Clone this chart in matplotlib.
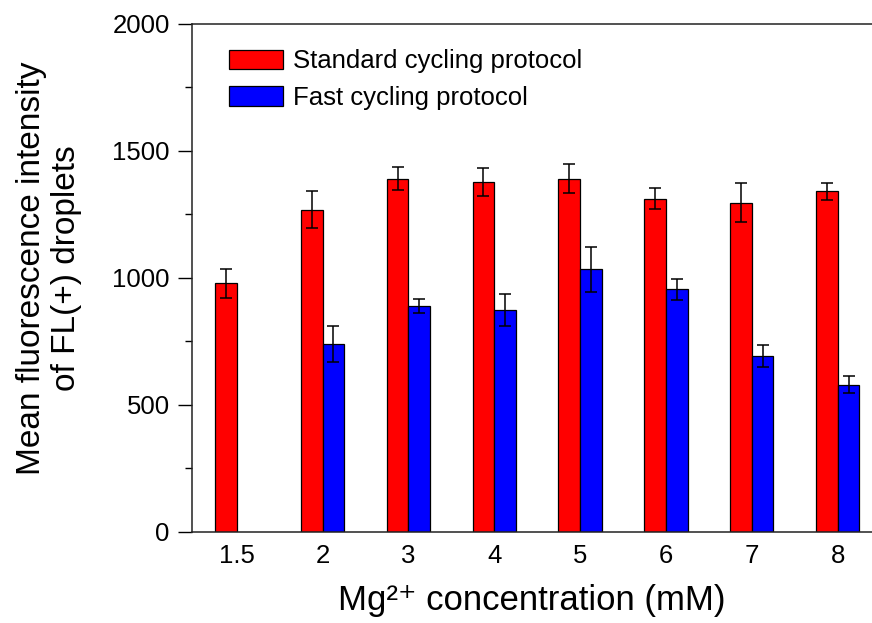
import numpy as np
import matplotlib.pyplot as plt
from matplotlib.ticker import MultipleLocator

plt.rcParams['font.family'] = ['Liberation Sans', 'DejaVu Sans']

# Data
categories = ['1.5', '2', '3', '4', '5', '6', '7', '8']
standard = [979, 1268, 1390, 1378, 1391, 1312, 1297, 1341]
standard_err = [57, 73, 45, 55, 56, 42, 75, 34]
fast = [np.nan, 740, 890, 874, 1034, 955, 694, 580]
fast_err = [np.nan, 70, 27, 64, 88, 40, 43, 33]

fig = plt.figure(figsize=(8.72, 6.23), dpi=100)
ax = fig.add_axes([0.2202, 0.1461, 0.7798, 0.8154])

x = np.arange(len(categories))
w = 0.2526
err_kw = dict(ecolor='black', elinewidth=1.1, capsize=4.5, capthick=1.1)

ax.bar(x - w / 2, standard, w, yerr=standard_err, color='#ff0000',
       edgecolor='black', linewidth=0.9, error_kw=err_kw,
       label='Standard cycling protocol')
ax.bar(x + w / 2, fast, w, yerr=fast_err, color='#0000ff',
       edgecolor='black', linewidth=0.9, error_kw=err_kw,
       label='Fast cycling protocol')

ax.set_xlim(-0.52, 7.40)
ax.set_ylim(0, 2000)
ax.set_xticks(x)
ax.set_xticklabels(categories)
ax.yaxis.set_major_locator(MultipleLocator(500))
ax.yaxis.set_minor_locator(MultipleLocator(250))
ax.tick_params(axis='x', length=0, pad=9, labelsize=18.5)
ax.tick_params(axis='y', which='major', length=10, width=1, pad=6, labelsize=18.5)
ax.tick_params(axis='y', which='minor', length=5, width=1)

ax.spines['right'].set_visible(False)
for s in ['top', 'left', 'bottom']:
    ax.spines[s].set_color('#222222')
    ax.spines[s].set_linewidth(1.1)

ax.set_xlabel('Mg²⁺ concentration (mM)', fontsize=25, labelpad=11)
fig.text(0.056, 0.57, 'Mean fluorescence intensity\nof FL(+) droplets',
         rotation=90, ha='center', va='center', multialignment='center',
         fontsize=24, linespacing=1.15)

ax.legend(loc='upper left', bbox_to_anchor=(0.054, 0.95), frameon=False,
          fontsize=18.5, handlelength=2.1, handleheight=0.8,
          handletextpad=0.4, labelspacing=0.5, borderpad=0, borderaxespad=0)

fig.savefig('out.png', dpi=100)
